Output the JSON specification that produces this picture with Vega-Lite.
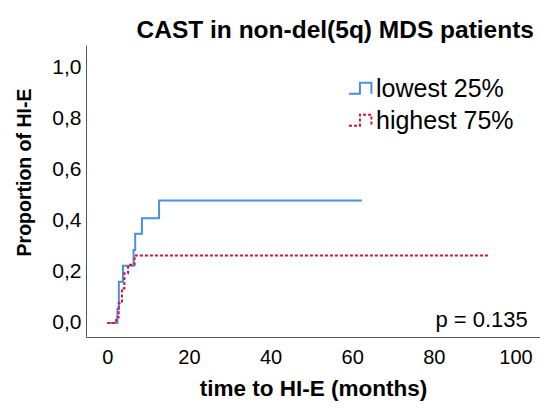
{
  "$schema": "https://vega.github.io/schema/vega-lite/v6.json",
  "width": 454,
  "height": 292,
  "autosize": {"type": "none"},
  "padding": {"left": 86, "top": 45, "right": 0, "bottom": 72},
  "title": {"text": "CAST in non-del(5q) MDS patients", "anchor": "end", "fontSize": 24.5, "fontWeight": "bold", "font": "Liberation Sans", "color": "black", "offset": 2, "dx": -6},
  "config": {
    "view": {"stroke": null},
    "font": "Liberation Sans",
    "axis": {"domainColor": "#555555", "domainWidth": 1, "ticks": false, "grid": false, "labelColor": "black", "titleColor": "black", "labelFont": "Liberation Sans", "titleFont": "Liberation Sans"},
    "legend": {
      "orient": "none", "legendX": 262, "legendY": 31, "title": null, "padding": 0,
      "symbolType": "M-1,0.45H-0.05V-0.5H0.95V0.45",
      "symbolSize": 529, "symbolStrokeWidth": 2, "symbolFillColor": "transparent",
      "labelFontSize": 25, "labelFont": "Liberation Sans", "labelColor": "black", "labelOffset": 3, "rowPadding": 6
    }
  },
  "data": {"values": [
    {"t": 0, "p": 0, "g": "lowest 25%"},
    {"t": 2.5, "p": 0.054, "g": "lowest 25%"},
    {"t": 2.85, "p": 0.161, "g": "lowest 25%"},
    {"t": 3.85, "p": 0.223, "g": "lowest 25%"},
    {"t": 6.45, "p": 0.285, "g": "lowest 25%"},
    {"t": 6.85, "p": 0.348, "g": "lowest 25%"},
    {"t": 8.5, "p": 0.409, "g": "lowest 25%"},
    {"t": 12.7, "p": 0.478, "g": "lowest 25%"},
    {"t": 62.4, "p": 0.478, "g": "lowest 25%"},
    {"t": 0, "p": 0, "g": "highest 75%"},
    {"t": 2.2, "p": 0.022, "g": "highest 75%"},
    {"t": 2.8, "p": 0.077, "g": "highest 75%"},
    {"t": 3.6, "p": 0.135, "g": "highest 75%"},
    {"t": 4.2, "p": 0.194, "g": "highest 75%"},
    {"t": 5.1, "p": 0.227, "g": "highest 75%"},
    {"t": 6.7, "p": 0.263, "g": "highest 75%"},
    {"t": 93.3, "p": 0.263, "g": "highest 75%"}
  ]},
  "layer": [
    {
      "mark": {"type": "line", "interpolate": "step-after", "strokeWidth": 2},
      "encoding": {
        "x": {"field": "t", "type": "quantitative", "scale": {"domain": [-5.2, 106], "nice": false, "zero": false},
              "axis": {"values": [0, 20, 40, 60, 80, 100], "title": "time to HI-E (months)", "titleFontSize": 22.5, "titleFontWeight": "bold", "labelFontSize": 20, "labelPadding": 10, "titlePadding": 10}},
        "y": {"field": "p", "type": "quantitative", "scale": {"domain": [-0.055, 1.086], "nice": false, "zero": false},
              "axis": {"values": [0, 0.2, 0.4, 0.6, 0.8, 1.0], "format": ".1f", "labelExpr": "replace(datum.label, '.', ',')", "title": "Proportion of HI-E", "titleFontSize": 19.5, "titleFontWeight": "bold", "labelFontSize": 21, "labelPadding": 5, "titleX": -52, "titleY": 127, "titleAngle": -90, "titleBaseline": "bottom", "titleAlign": "center"}},
        "color": {"field": "g", "type": "nominal", "scale": {"domain": ["lowest 25%", "highest 75%"], "range": ["#4a90e2", "#d2143a"]}},
        "strokeDash": {"field": "g", "type": "nominal", "scale": {"domain": ["lowest 25%", "highest 75%"], "range": [[1, 0], [3, 2]]}}
      }
    },
    {
      "data": {"values": [{"t": 103, "p": 0.012, "label": "p = 0.135"}]},
      "mark": {"type": "text", "align": "right", "baseline": "middle", "fontSize": 22, "font": "Liberation Sans", "color": "black"},
      "encoding": {
        "x": {"field": "t", "type": "quantitative"},
        "y": {"field": "p", "type": "quantitative"},
        "text": {"field": "label"}
      }
    }
  ]
}
